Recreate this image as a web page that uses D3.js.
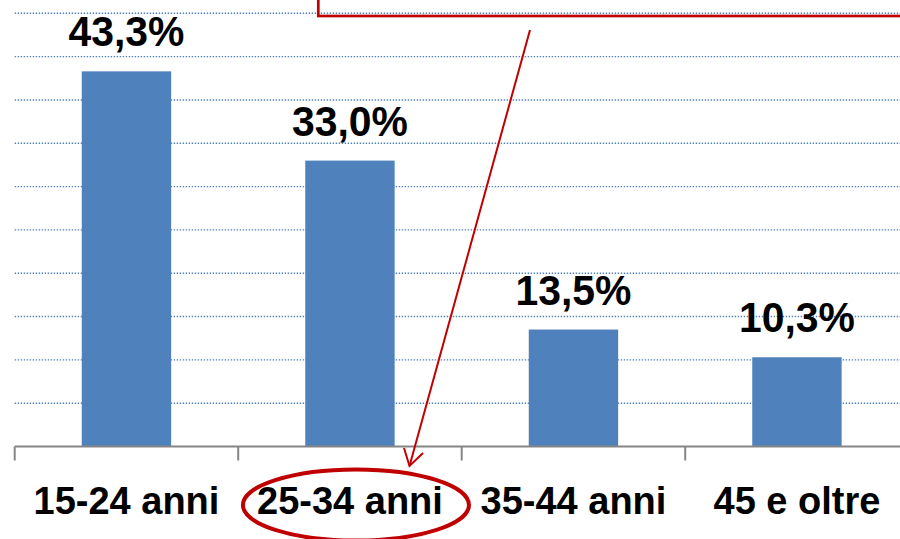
<!DOCTYPE html>
<html>
<head>
<meta charset="utf-8">
<script src="https://cdn.jsdelivr.net/npm/d3@7"></script>
<style>
  html, body { margin: 0; padding: 0; background: #fff; overflow: hidden; }
  svg { display: block; }
</style>
</head>
<body>
<svg id="chart" width="900" height="539"></svg>
<script>
const categories = ["15-24 anni", "25-34 anni", "35-44 anni", "45 e oltre"];
const values = [43.3, 33.0, 13.5, 10.3];
const valueLabels = ["43,3%", "33,0%", "13,5%", "10,3%"];
const gridTicks = [5, 10, 15, 20, 25, 30, 35, 40, 45, 50];
const highlighted = "25-34 anni";

const svg = d3.select("#chart");
const W = 900, H = 539;
const plotLeft = 14.7, plotRight = 908.7;
const baseY = 446.5, topY = 13.3;

const x = d3.scaleBand().domain(categories).range([plotLeft, plotRight])
  .paddingInner(0.6).paddingOuter(0.3);
const y = d3.scaleLinear().domain([0, 50]).range([baseY, topY]);

const BLUE = "#4F81BD", RED = "#C00000";
const FONT = "'Liberation Sans', Arial, sans-serif";

// gridlines
svg.append("g").selectAll("line").data(gridTicks).join("line")
  .attr("x1", plotLeft).attr("x2", W)
  .attr("y1", d => y(d)).attr("y2", d => y(d))
  .attr("stroke", BLUE).attr("stroke-width", 1.4)
  .attr("stroke-dasharray", "1.4,1.6");

// bars
svg.append("g").selectAll("rect").data(values).join("rect")
  .attr("x", (d, i) => x(categories[i]))
  .attr("width", x.bandwidth())
  .attr("y", d => y(d))
  .attr("height", d => y(0) - y(d))
  .attr("fill", BLUE);

// x axis
const step = x.step();
const boundaries = d3.range(categories.length + 1).map(i => plotLeft + i * step);
const axisG = svg.append("g");
axisG.append("line")
  .attr("x1", plotLeft).attr("x2", W)
  .attr("y1", y(0)).attr("y2", y(0))
  .attr("stroke", "#868686").attr("stroke-width", 2);
axisG.selectAll("line.tick").data(boundaries).join("line").attr("class", "tick")
  .attr("x1", d => d).attr("x2", d => d)
  .attr("y1", y(0)).attr("y2", y(0) + 14)
  .attr("stroke", "#868686").attr("stroke-width", 2);

// category labels
svg.append("g").selectAll("text").data(categories).join("text")
  .attr("x", d => x(d) + x.bandwidth() / 2)
  .attr("y", 514)
  .attr("text-anchor", "middle")
  .attr("font-family", FONT)
  .attr("font-weight", "bold")
  .attr("font-size", 38)
  .attr("fill", "#000")
  .text(d => d);

// value labels
svg.append("g").selectAll("text").data(values).join("text")
  .attr("x", (d, i) => x(categories[i]) + x.bandwidth() / 2)
  .attr("y", d => y(d) - 25)
  .attr("text-anchor", "middle")
  .attr("font-family", FONT)
  .attr("font-weight", "bold")
  .attr("font-size", 42)
  .attr("textLength", 116)
  .attr("lengthAdjust", "spacingAndGlyphs")
  .attr("fill", "#000")
  .text((d, i) => valueLabels[i]);

// annotation: callout box (cut off at top), arrow, ellipse
const ann = svg.append("g");
ann.append("rect")
  .attr("x", 318.3).attr("y", -20).attr("width", 700).attr("height", 36)
  .attr("fill", "none").attr("stroke", RED).attr("stroke-width", 2.7);

const hx = x(highlighted) + x.bandwidth() / 2;
const tip = [409.5, 466];
ann.append("line")
  .attr("x1", 530).attr("y1", 30).attr("x2", tip[0]).attr("y2", tip[1])
  .attr("stroke", RED).attr("stroke-width", 2);
ann.append("path")
  .attr("d", `M${tip[0] - 5.5},${tip[1] - 18} L${tip[0]},${tip[1]} L${tip[0] + 13.5},${tip[1] - 13}`)
  .attr("fill", "none").attr("stroke", RED).attr("stroke-width", 2);

ann.append("ellipse")
  .attr("cx", hx + 6).attr("cy", 505)
  .attr("rx", 113).attr("ry", 35.5)
  .attr("fill", "none").attr("stroke", RED).attr("stroke-width", 4);
</script>
</body>
</html>
